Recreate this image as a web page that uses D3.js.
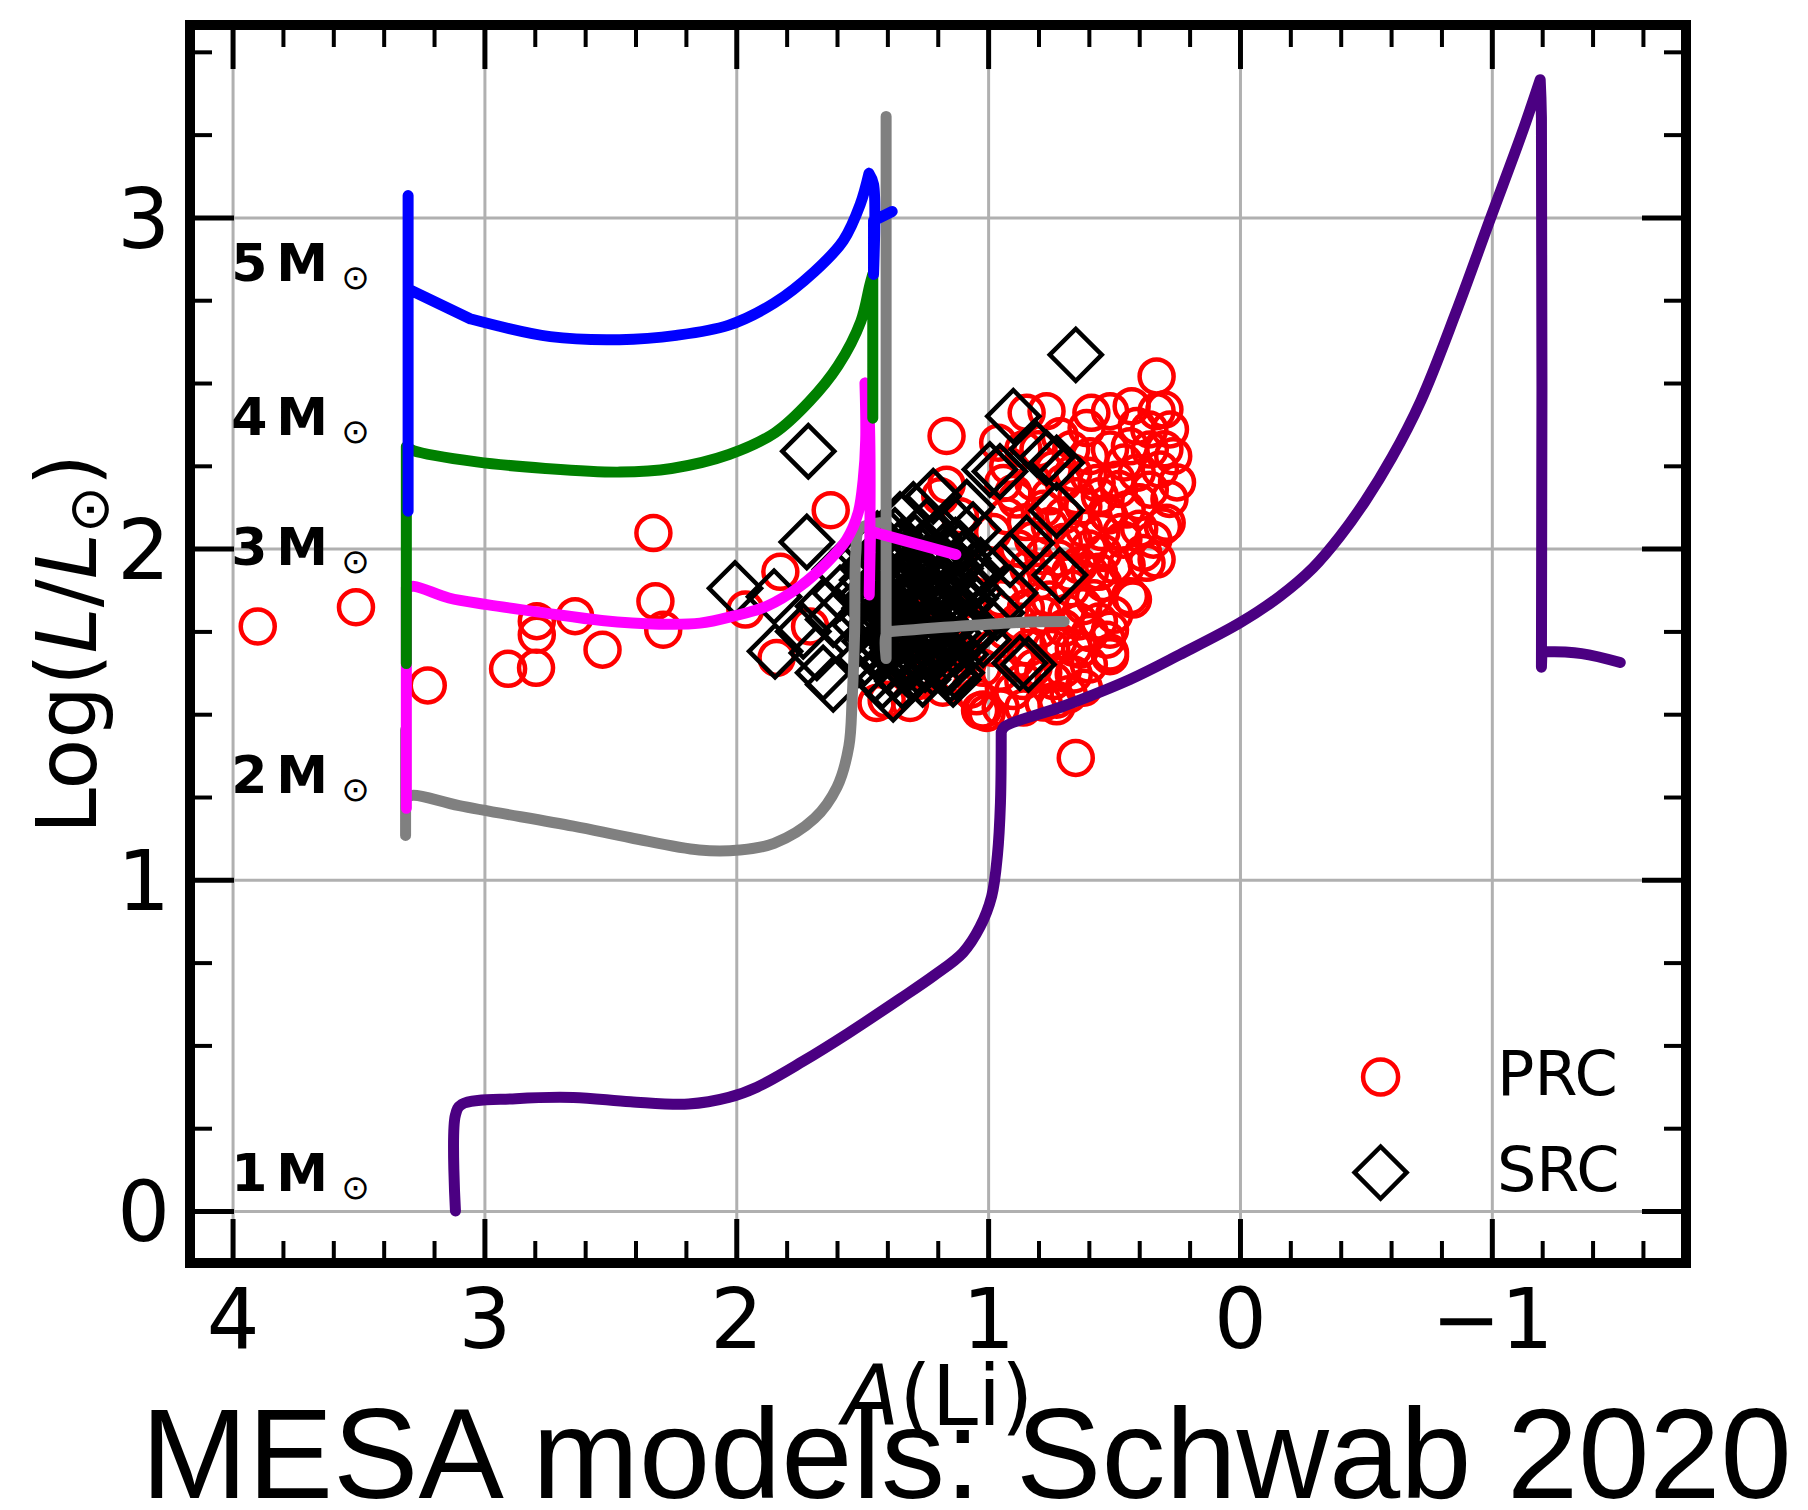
<!DOCTYPE html>
<html>
<head>
<meta charset="utf-8">
<script src="https://cdn.jsdelivr.net/npm/d3@7"></script>
<style>
  body { margin: 0; background: #fff; }
  svg { display: block; }
</style>
</head>
<body>
<svg id="chart" width="1808" height="1510"></svg>
<script>
// ---------------- data ----------------
// axis ticks
const xMajorTicks = [4, 3, 2, 1, 0, -1];
const yMajorTicks = [0, 1, 2, 3];
const xTickLabels = ["4", "3", "2", "1", "0", "\u22121"];
const yTickLabels = ["0", "1", "2", "3"];

// MESA evolutionary tracks: [A(Li), log L/Lsun]
const track1 = [[3.115,0.0],[3.115,0.29],[3.09,0.322],[2.875,0.339],[2.647,0.343],[2.42,0.330],[2.19,0.323],[2.03,0.343],[1.918,0.374],[1.735,0.452],[1.553,0.538],[1.353,0.639],[1.215,0.711],[1.10,0.78],[1.032,0.858],[0.986,0.95],[0.963,1.075],[0.951,1.233],[0.948,1.445],[0.935,1.462],[0.702,1.524],[0.437,1.605],[0.239,1.68],[0.0,1.776],[-0.158,1.856],[-0.29,1.942],[-0.397,2.037],[-0.496,2.142],[-0.603,2.275],[-0.718,2.446],[-0.857,2.712],[-0.994,2.996],[-1.119,3.253],[-1.192,3.416],[-1.197,3.30],[-1.197,1.642],[-1.199,1.689],[-1.357,1.683],[-1.51,1.656]];
const track2 = [[3.313,1.453],[3.313,1.134],[3.313,1.245],[3.286,1.255],[3.10,1.224],[2.647,1.162],[2.42,1.127],[2.147,1.09],[1.987,1.09],[1.85,1.11],[1.69,1.185],[1.60,1.28],[1.553,1.403],[1.54,1.544],[1.53,1.75],[1.525,1.99],[1.51,2.06],[1.405,2.08],[1.405,3.305],[1.405,1.668],[1.405,1.74],[1.386,1.75],[0.877,1.777],[0.698,1.78]];
const track3 = [[3.31,1.653],[3.31,1.216],[3.31,1.882],[3.279,1.886],[3.141,1.851],[2.99,1.831],[2.762,1.806],[2.534,1.783],[2.306,1.772],[2.144,1.775],[2.012,1.796],[1.879,1.826],[1.747,1.886],[1.641,1.957],[1.562,2.027],[1.516,2.108],[1.496,2.208],[1.486,2.329],[1.489,2.50],[1.474,2.42],[1.472,1.86],[1.467,2.052],[1.128,1.982]];
const track4 = [[3.31,2.113],[3.31,1.653],[3.31,2.308],[3.282,2.296],[3.031,2.262],[2.758,2.242],[2.462,2.231],[2.257,2.242],[2.029,2.284],[1.846,2.35],[1.71,2.444],[1.596,2.552],[1.505,2.687],[1.47,2.795],[1.458,2.828],[1.458,2.394]];
const track5 = [[3.303,3.066],[3.303,2.113],[3.303,2.784],[3.057,2.694],[2.738,2.64],[2.464,2.631],[2.238,2.644],[2.032,2.674],[1.85,2.741],[1.69,2.836],[1.575,2.93],[1.508,3.039],[1.473,3.133],[1.455,3.10],[1.455,2.828],[1.455,2.99],[1.381,3.018]];

// indices of the sharp turns in each track (smooth spline in between)
const track1Corners = [18, 33, 35, 36];
const track2Corners = [1, 2, 17, 18, 19, 21];
const track3Corners = [1, 2, 18, 20, 21];
const track4Corners = [1, 2, 14];
const track5Corners = [1, 2, 3, 12, 14, 15];

const trackMasses = ["2", "3", "4", "5", "1"];
const trackColors = ["#808080", "#ff00ff", "#008000", "#0000ff", "#4b0082"];
const trackData = [track2, track3, track4, track5, track1];
const trackCorners = [track2Corners, track3Corners, track4Corners, track5Corners, track1Corners];

// mass labels, anchored in data units [A(Li), log L]
const massLabelText = ["5", "4", "3", "2", "1"];
const massLabelAnchor = [[4.005,2.808],[4.005,2.343],[4.005,1.95],[4.005,1.263],[4.005,0.06]];

// PRC stars (red circles)
const prcStars = [
  [3.90,1.765],[3.51,1.823],[3.225,1.587],[2.906,1.637],[2.795,1.64],[2.792,1.74],[2.792,1.781],[2.64,1.796],[2.531,1.695],[2.329,2.047],[2.321,1.841],[2.29,1.755],[1.964,1.816],[1.825,1.93],[1.84,1.67],[1.625,2.116],[1.165,2.34],
  [1.707,1.765],[1.443,1.534],[1.403,1.544],[1.31,1.534],[1.046,1.554],[1.006,1.504],[1.032,1.511],[0.78,1.535],[0.728,1.524],[0.728,1.544],[0.652,1.368],[1.02,1.514],[1.072,1.574],[1.165,2.193],[1.112,2.098],[1.19,2.158],[0.90,2.168],[0.927,2.098],
  [1.30,1.80],[1.25,1.72],[1.20,1.65],[1.15,1.70],[1.10,1.80],[1.35,1.66],[1.28,1.60],[1.05,1.75],[1.12,1.62],[1.08,1.68],[1.18,1.58],[1.02,1.64],
  [0.331,2.52],[0.847,2.41],[0.768,2.415],[0.609,2.364],[0.516,2.415],[0.41,2.37],[0.331,2.415],[0.278,2.36],[0.265,2.279],[0.358,2.299],[0.437,2.309],[0.516,2.299],[0.596,2.279],[0.569,2.198],[0.49,2.208],[0.41,2.229],[0.318,2.239],[0.358,2.178],[0.556,2.158],[0.649,2.158],[0.755,2.158],[0.887,2.148],[0.94,2.198],[0.529,2.108],[0.45,2.118],[0.291,2.078],[0.344,2.027],[0.384,1.987],[0.331,1.967],[0.463,2.027],[0.543,1.987],[0.596,1.927],[0.543,1.896],[0.437,1.856],[0.622,1.826],[0.596,1.745],[0.529,1.725],[0.516,1.675],[0.635,1.695],[0.702,1.635],[0.781,1.625],[0.887,1.665],[0.953,1.625],[0.675,1.927],[0.662,2.027],[0.622,2.128],[0.755,2.068],[0.821,2.027],[0.781,1.977],[0.688,1.806],[0.755,1.846],[0.794,1.755],[0.662,2.229],[0.715,2.339],
  [0.30,2.30],[0.36,2.36],[0.46,2.26],[0.40,2.14],[0.47,2.05],[0.55,2.05],[0.60,2.00],[0.67,1.88],[0.72,1.97],[0.80,1.90],[0.85,1.82],[0.88,1.78],[0.84,1.70],[0.75,1.70],[0.70,1.76],[0.64,1.78],[0.58,1.85],[0.50,1.80],[0.90,1.90],[0.95,1.85],[0.93,1.75],[0.98,1.70],[0.86,1.60],[0.66,1.62],[0.60,1.65],[0.50,1.95],[0.45,1.95],[0.40,2.06],[0.28,2.15],[0.30,2.42],[0.43,2.43],[0.25,2.20],[0.59,2.41],[0.67,2.30],[0.74,2.24],[0.80,2.30],[0.82,2.20],[0.98,2.05],[1.00,1.95],
  [0.62,2.06],[0.70,2.10],[0.78,2.12],[0.85,2.08],[0.88,2.00],[0.84,1.94],[0.76,1.93],[0.70,2.02],[0.64,1.95],[0.56,1.93],[0.52,2.10],[0.48,2.18],[0.60,2.22],[0.70,2.20],[0.78,1.80],[0.72,1.72],[0.66,1.70],[0.82,1.64],[0.90,1.57],[0.95,1.52],[0.86,1.52],[0.92,2.25],[0.86,2.30],[0.96,2.32],[0.56,1.78],[0.62,1.58],[0.74,1.60],[0.68,1.56],
  [0.425,1.846],[0.516,1.755],[0.516,1.686],[0.306,2.067],[0.371,1.957]
];

// SRC stars (black diamonds)
const srcStars = [
  [0.652,2.585],[0.90,2.40],[1.714,2.294],[1.72,2.02],[2.005,1.88],[1.85,1.855],[1.846,1.69],[1.734,1.75],[1.655,1.625],[1.615,1.59],[1.68,1.685],[1.615,1.786],[1.655,1.826],[1.588,1.866],[1.588,1.937],
  [1.218,2.158],[1.297,2.118],[1.085,2.125],[0.993,2.239],[0.953,2.233],[0.807,2.30],[0.768,2.274],[0.728,2.259],[0.728,2.115],[0.847,2.017],[0.715,1.92],[0.913,1.866],[0.913,1.967],[0.84,1.65],[1.02,1.725],[1.125,1.625],[1.165,1.635],[1.377,1.56],[1.139,1.605],[0.874,1.655],[0.966,1.806],[1.35,2.088],[1.244,2.067],[1.139,2.078],[1.06,2.057],
  [1.44,2.03],[1.37,2.04],[1.29,2.02],[1.21,2.03],[1.13,2.01],
  [1.49,1.98],[1.41,1.99],[1.33,1.97],[1.26,1.98],[1.18,1.96],[1.10,1.97],[1.03,1.95],
  [1.46,1.93],[1.38,1.94],[1.30,1.92],[1.23,1.93],[1.15,1.91],[1.07,1.92],
  [1.50,1.88],[1.43,1.87],[1.35,1.89],[1.27,1.87],[1.20,1.88],[1.12,1.86],[1.05,1.87],
  [1.47,1.82],[1.40,1.83],[1.32,1.82],[1.24,1.84],[1.17,1.82],[1.09,1.83],
  [1.51,1.77],[1.44,1.78],[1.36,1.77],[1.28,1.79],[1.21,1.77],[1.13,1.78],[1.05,1.76],
  [1.47,1.72],[1.39,1.73],[1.31,1.72],[1.24,1.74],[1.16,1.72],[1.08,1.73],
  [1.49,1.67],[1.42,1.68],[1.34,1.67],[1.26,1.69],[1.19,1.67],[1.11,1.68],
  [1.45,1.62],[1.37,1.63],[1.30,1.62],[1.22,1.64],[1.15,1.62],
  [1.40,2.005],[1.25,1.955],[1.33,1.905],[1.17,1.855],[1.28,1.805],[1.36,1.75],[1.20,1.705],[1.31,1.655],[1.45,1.85],[1.14,1.94],[1.39,1.80],[1.23,1.86],[1.41,1.705],[1.26,1.76],[1.19,1.90],[1.34,1.84],[1.47,1.95],[1.10,1.75],
  [1.42,1.995],[1.34,2.01],[1.26,2.00],[1.18,1.99],[1.11,2.00],
  [1.45,1.955],[1.37,1.96],[1.29,1.95],[1.21,1.945],[1.13,1.94],[1.06,1.935],
  [1.48,1.905],[1.41,1.91],[1.33,1.915],[1.26,1.90],[1.18,1.895],[1.10,1.90],
  [1.46,1.855],[1.38,1.855],[1.31,1.86],[1.22,1.85],[1.15,1.845],[1.07,1.85],
  [1.49,1.80],[1.42,1.805],[1.34,1.795],[1.26,1.81],[1.19,1.80],[1.11,1.805],
  [1.46,1.745],[1.38,1.755],[1.30,1.745],[1.22,1.755],[1.14,1.745],[1.07,1.75],
  [1.44,1.695],[1.36,1.70],[1.28,1.705],[1.21,1.69],[1.13,1.70],
  [1.40,1.65],[1.33,1.645],[1.25,1.65],[1.17,1.645],
  [1.42,1.60],[1.34,1.60],[1.26,1.605]
];

const legendNames = ["PRC", "SRC"];

// ---------------- layout ----------------
const plot = { left: 190, right: 1686, top: 25, bottom: 1263 };
const W = plot.right - plot.left, H = plot.bottom - plot.top;

const x = d3.scaleLinear().domain([4.169, -1.771]).range([plot.left, plot.right]);
const y = d3.scaleLinear().domain([-0.157, 3.581]).range([plot.bottom, plot.top]);

const xMinorTicks = d3.range(-1.6, 4.01, 0.2).map(v => +v.toFixed(2)).filter(v => Math.abs(v - Math.round(v)) > 1e-6);
const yMinorTicks = d3.range(0.25, 3.6, 0.25).filter(v => Math.abs(v - Math.round(v)) > 1e-6);

const svg = d3.select("#chart");
svg.append("rect").attr("width", 1808).attr("height", 1510).attr("fill", "#fff");

svg.append("defs").append("clipPath").attr("id", "plotclip")
  .append("rect").attr("x", plot.left).attr("y", plot.top).attr("width", W).attr("height", H);

// ---- grid ----
const grid = svg.append("g").attr("class", "grid");
grid.append("g").attr("transform", `translate(0,${plot.bottom})`)
  .call(d3.axisBottom(x).tickValues(xMajorTicks).tickSize(-H).tickFormat(""))
  .call(g => g.select(".domain").remove())
  .call(g => g.selectAll("line").attr("stroke", "#b0b0b0").attr("stroke-width", 3));
grid.append("g").attr("transform", `translate(${plot.left},0)`)
  .call(d3.axisLeft(y).tickValues(yMajorTicks).tickSize(-W).tickFormat(""))
  .call(g => g.select(".domain").remove())
  .call(g => g.selectAll("line").attr("stroke", "#b0b0b0").attr("stroke-width", 3));

// ---- scatter ----
const marks = svg.append("g").attr("clip-path", "url(#plotclip)");
marks.append("g").selectAll("circle").data(prcStars).join("circle")
  .attr("cx", d => x(d[0])).attr("cy", d => y(d[1])).attr("r", 17)
  .attr("fill", "none").attr("stroke", "#ff0000").attr("stroke-width", 4.5);

const diamond = d3.symbol().type(d3.symbolSquare).size(1352);
marks.append("g").selectAll("path").data(srcStars).join("path")
  .attr("d", diamond)
  .attr("transform", d => `translate(${x(d[0])},${y(d[1])}) rotate(45)`)
  .attr("fill", "none").attr("stroke", "#000").attr("stroke-width", 4.5);

// ---- tracks: smooth spline between sharp turns ----
const smooth = d3.line().curve(d3.curveCatmullRom.alpha(0.5)).x(d => x(d[0])).y(d => y(d[1]));
function trackPath(pts, corners) {
  const cuts = [0, ...corners, pts.length - 1];
  let d = "";
  for (let k = 0; k < cuts.length - 1; k++) {
    const piece = pts.slice(cuts[k], cuts[k + 1] + 1);
    if (piece.length > 1) d += smooth(piece);
  }
  return d;
}
marks.append("g").selectAll("path").data(trackData).join("path")
  .attr("d", (d, i) => trackPath(d, trackCorners[i]))
  .attr("fill", "none")
  .attr("stroke", (d, i) => trackColors[i])
  .attr("stroke-width", 11)
  .attr("stroke-linejoin", "round")
  .attr("stroke-linecap", "round")
  .attr("data-mass", (d, i) => trackMasses[i]);

// ---- ticks ----
const tickFont = "'DejaVu Sans', sans-serif";
function styleTicks(g, w) {
  g.select(".domain").remove();
  g.selectAll("line").attr("stroke", "#000").attr("stroke-width", w);
}
// bottom
svg.append("g").attr("transform", `translate(0,${plot.bottom})`)
  .call(d3.axisBottom(x).tickValues(xMinorTicks).tickSize(-22).tickFormat(""))
  .call(g => styleTicks(g, 4));
svg.append("g").attr("transform", `translate(0,${plot.bottom})`)
  .call(d3.axisBottom(x).tickValues(xMajorTicks).tickSize(-44).tickPadding(26)
        .tickFormat((d, i) => xTickLabels[i]))
  .call(g => styleTicks(g, 5))
  .call(g => g.selectAll("text").attr("font-family", tickFont).attr("font-size", 83).attr("fill", "#000"));
// top
svg.append("g").attr("transform", `translate(0,${plot.top})`)
  .call(d3.axisTop(x).tickValues(xMinorTicks).tickSize(-22).tickFormat(""))
  .call(g => styleTicks(g, 4));
svg.append("g").attr("transform", `translate(0,${plot.top})`)
  .call(d3.axisTop(x).tickValues(xMajorTicks).tickSize(-44).tickFormat(""))
  .call(g => styleTicks(g, 5));
// left
svg.append("g").attr("transform", `translate(${plot.left},0)`)
  .call(d3.axisLeft(y).tickValues(yMinorTicks).tickSize(-22).tickFormat(""))
  .call(g => styleTicks(g, 4));
svg.append("g").attr("transform", `translate(${plot.left},0)`)
  .call(d3.axisLeft(y).tickValues(yMajorTicks).tickSize(-44).tickPadding(20)
        .tickFormat((d, i) => yTickLabels[i]))
  .call(g => styleTicks(g, 5))
  .call(g => g.selectAll("text").attr("font-family", tickFont).attr("font-size", 83)
        .attr("fill", "#000").attr("dy", "0.36em"));
// right
svg.append("g").attr("transform", `translate(${plot.right},0)`)
  .call(d3.axisRight(y).tickValues(yMinorTicks).tickSize(-22).tickFormat(""))
  .call(g => styleTicks(g, 4));
svg.append("g").attr("transform", `translate(${plot.right},0)`)
  .call(d3.axisRight(y).tickValues(yMajorTicks).tickSize(-44).tickFormat(""))
  .call(g => styleTicks(g, 5));

// ---- frame ----
svg.append("rect")
  .attr("x", plot.left).attr("y", plot.top).attr("width", W).attr("height", H)
  .attr("fill", "none").attr("stroke", "#000").attr("stroke-width", 10);

// ---- mass labels ----
const ml = svg.append("g").attr("font-family", tickFont).attr("font-weight", "bold").attr("fill", "#000");
massLabelText.forEach((m, i) => {
  const px = x(massLabelAnchor[i][0]), py = y(massLabelAnchor[i][1]);
  const t = ml.append("text").attr("y", py).attr("font-size", 52);
  t.append("tspan").attr("x", px).text(m);
  t.append("tspan").attr("x", px + 45).text("M");
  t.append("tspan").attr("x", px + 110).attr("dy", 8).attr("font-size", 34).attr("font-weight", "normal").text("\u2299");
});

// ---- legend ----
const lg = svg.append("g");
const legX = 1380.6, legY = [1077, 1172.6];
lg.append("circle").attr("cx", legX).attr("cy", legY[0]).attr("r", 17.5)
  .attr("fill", "none").attr("stroke", "#ff0000").attr("stroke-width", 4.5);
lg.append("path").attr("d", diamond)
  .attr("transform", `translate(${legX},${legY[1]}) rotate(45)`)
  .attr("fill", "none").attr("stroke", "#000").attr("stroke-width", 4.5);
lg.selectAll("text").data(legendNames).join("text")
  .attr("x", 1497).attr("y", (d, i) => legY[i] + 18)
  .attr("font-family", tickFont).attr("font-size", 62).attr("fill", "#000")
  .text(d => d);

// ---- axis labels ----
const xl = svg.append("text").attr("x", (plot.left + plot.right) / 2).attr("y", 1425)
  .attr("text-anchor", "middle").attr("font-family", tickFont).attr("font-size", 83).attr("fill", "#000");
xl.append("tspan").attr("font-style", "italic").text("A");
xl.append("tspan").text("(Li)");

const yl = svg.append("text")
  .attr("transform", `translate(96,${(plot.top + plot.bottom) / 2}) rotate(-90)`)
  .attr("text-anchor", "middle").attr("font-family", tickFont).attr("font-size", 83).attr("fill", "#000");
yl.append("tspan").text("Log(");
yl.append("tspan").attr("font-style", "italic").text("L");
yl.append("tspan").text("/");
yl.append("tspan").attr("font-style", "italic").text("L");
yl.append("tspan").attr("font-size", 56).attr("dy", 12).text("\u2299");
yl.append("tspan").attr("dy", -12).text(")");

// ---- caption ----
svg.append("text").attr("x", 141).attr("y", 1498)
  .attr("font-family", "'Liberation Sans', Arial, Helvetica, sans-serif").attr("font-size", 128).attr("fill", "#000")
  .text("MESA models: Schwab 2020");
</script>
</body>
</html>
